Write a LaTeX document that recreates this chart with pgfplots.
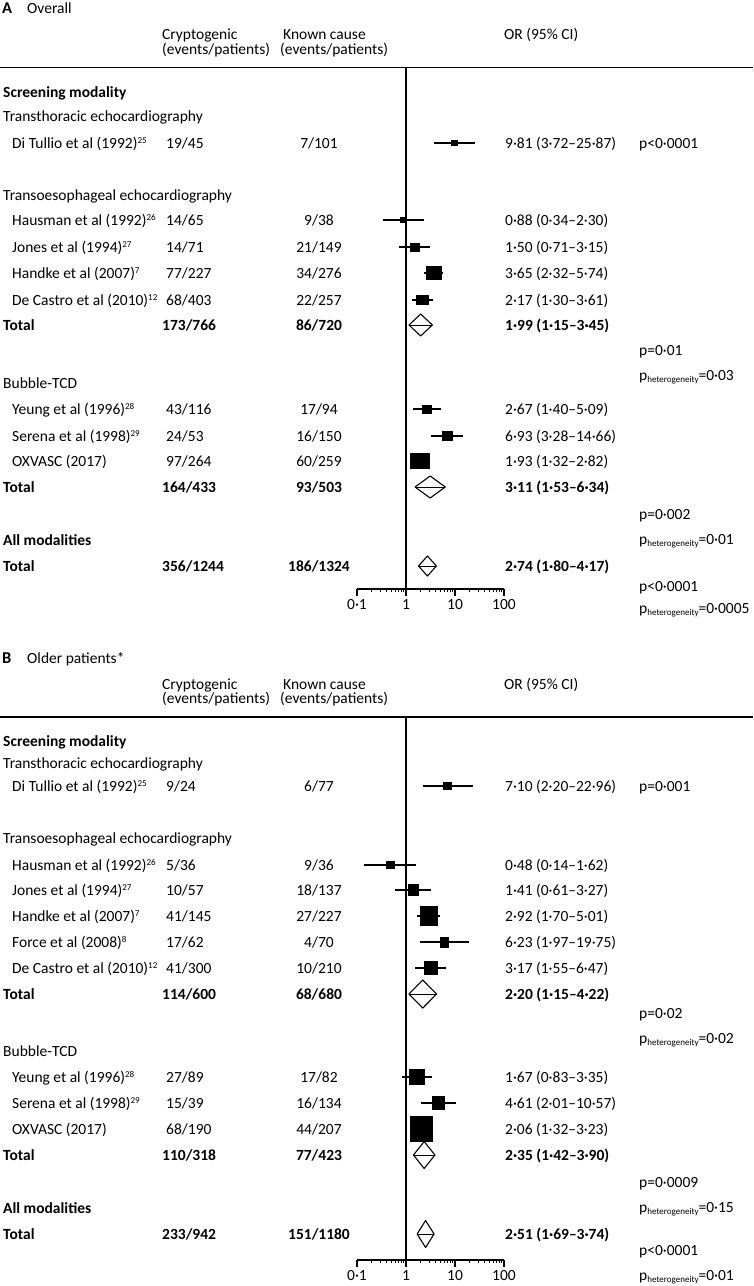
\documentclass[border=0pt]{standalone}
\usepackage{fontspec}
\setmainfont{Carlito}
\usepackage{pgfplots}
\pgfplotsset{compat=1.18}
\usepackage{pgfplotstable}

% one row per study: y (pixel row, negated), OR, half width / half height of the square
\pgfplotstableread{
y      or    w     h
-143   9.81  3.7   3.4
-220   0.88  3.4   3.4
-247   1.50  5.0   4.5
-273   3.65  8.0   6.7
-300   2.17  6.8   5.3
-409   2.67  5.3   4.5
-436   6.93  5.5   5.0
-461   1.93  9.7   7.8
}\studA
\pgfplotstableread{
y      or    w     h
-786   7.10  4.5   4.2
-865   0.48  4.3   4.2
-890   1.41  5.3   6.1
-916   2.92  8.7   10.3
-942   6.23  4.5   5.5
-968   3.17  7.0   7.0
-1077  1.67  7.7   7.7
-1103  4.61  6.2   7.0
-1129  2.06  11.7  13.3
}\studB

\pgfdeclareplotmark{box}{\pgfpathrectanglecorners{\pgfpoint{-\mw pt}{-\mh pt}}{\pgfpoint{\mw pt}{\mh pt}}\pgfusepathqfill}

\newcommand\squares[1]{%
  \addplot[scatter, only marks, mark=box,
    scatter/use mapped color={draw=none,fill=black},
    visualization depends on={\thisrow{w}\as\mw},
    visualization depends on={\thisrow{h}\as\mh}]
    table[x=or, y=y] {#1};}
\newcommand\diam[6]{%
  \addplot[draw=black, fill=white, line width=1.1pt, line join=round] coordinates {(#3,#1) (#2,#5) (#4,#1) (#2,#6) (#3,#1)};
  \addplot[black, line width=0.9pt] coordinates {(#3,#1) (#4,#1)};}

\newcommand\tl[3]{\node[anchor=base west,inner sep=0pt] at (#1pt,{-(#2+5)*1pt}) {#3};}
\newcommand\tc[3]{\node[anchor=base,inner sep=0pt] at (#1pt,{-(#2+5)*1pt}) {#3};}
\newcommand\su[1]{\raisebox{5pt}{\fontsize{9}{9}\selectfont #1}}
\newcommand\ph[1]{p\raisebox{-2.5pt}{\fontsize{9}{9}\selectfont heterogeneity}=#1}
\newcommand\study[5]{\tl{12}{#1}{#2}\tl{166}{#1}{#3}\tc{319}{#1}{#4}\tl{505}{#1}{#5}}
\newcommand\total[4]{\tl{3}{#1}{\bfseries Total}\tl{162}{#1}{\bfseries #2}\tc{319}{#1}{\bfseries #3}\tl{505}{#1}{\bfseries #4}}
% #1 = row of the rule under the header
\newcommand\head[3]{%
  \tl{2}{#1-59}{{\bfseries\fontsize{16.5}{18}\selectfont #2}}\tl{27}{#1-59}{#3}
  \tl{162}{#1-33}{Cryptogenic}\tl{162}{#1-18.5}{(events/patients)}
  \tl{283}{#1-33}{Known cause}\tl{280}{#1-18.5}{(events/patients)}
  \tl{504}{#1-33}{OR (95\% CI)}
  \draw[line width=1.3pt] (0,{-(#1)*1pt}) -- (753pt,{-(#1)*1pt});}

\begin{document}
\begin{tikzpicture}[font=\fontsize{15.5}{18}\selectfont]
\useasboundingbox (0,0) rectangle (753pt,-1286pt);

\begin{axis}[scale only axis, width=147pt, height=521pt,
    xmode=log, xmin=0.1, xmax=100, ymin=-589, ymax=-68,
    at={(357pt,-589pt)}, anchor=south west,
    axis x line*=bottom, axis y line=none, clip=false,
    xtick={0.1,1,10,100}, xticklabels={0·1,1,10,100}, minor xtick={},
    tick align=outside, major tick length=7pt,
    xticklabel style={font=\fontsize{15.5}{18}\selectfont},
    x axis line style={line width=1.2pt}, xtick style={line width=1.2pt,black},
    unbounded coords=jump]
  \addplot[black, line width=1.5pt] coordinates {(1,-68) (1,-589)};
  % 95% CI of each study
  \addplot[black, line width=1.2pt] coordinates {
    (3.72,-143) (25.87,-143) (nan,nan)
    (0.34,-220) (2.30,-220) (nan,nan)
    (0.71,-247) (3.15,-247) (nan,nan)
    (2.32,-273) (5.74,-273) (nan,nan)
    (1.30,-300) (3.61,-300) (nan,nan)
    (1.40,-409) (5.09,-409) (nan,nan)
    (3.28,-436) (14.66,-436) (nan,nan)
    (1.32,-461) (2.82,-461)};
  \squares{\studA}
  \diam{-325}{1.99}{1.15}{3.45}{-314}{-336}
  \diam{-487}{3.11}{1.53}{6.34}{-476}{-498}
  \diam{-566}{2.74}{1.80}{4.17}{-556}{-576}
\end{axis}

\begin{axis}[scale only axis, width=147pt, height=543pt,
    xmode=log, xmin=0.1, xmax=100, ymin=-1260, ymax=-717,
    at={(357pt,-1260pt)}, anchor=south west,
    axis x line*=bottom, axis y line=none, clip=false,
    xtick={0.1,1,10,100}, xticklabels={0·1,1,10,100}, minor xtick={},
    tick align=outside, major tick length=7pt,
    xticklabel style={font=\fontsize{15.5}{18}\selectfont},
    x axis line style={line width=1.2pt}, xtick style={line width=1.2pt,black},
    unbounded coords=jump]
  \addplot[black, line width=1.5pt] coordinates {(1,-717) (1,-1260)};
  \addplot[black, line width=1.2pt] coordinates {
    (2.20,-786) (22.96,-786) (nan,nan)
    (0.14,-865) (1.62,-865) (nan,nan)
    (0.61,-890) (3.27,-890) (nan,nan)
    (1.70,-916) (5.01,-916) (nan,nan)
    (1.97,-942) (19.75,-942) (nan,nan)
    (1.55,-968) (6.47,-968) (nan,nan)
    (0.83,-1077) (3.35,-1077) (nan,nan)
    (2.01,-1103) (10.57,-1103) (nan,nan)
    (1.32,-1129) (3.23,-1129)};
  \squares{\studB}
  \diam{-994}{2.20}{1.15}{4.22}{-980}{-1008}
  \diam{-1155}{2.35}{1.42}{3.90}{-1141.5}{-1168.5}
  \diam{-1234}{2.51}{1.69}{3.74}{-1220.5}{-1247.5}
\end{axis}

% panel A
\head{67.5}{A}{Overall}
\tl{3}{92}{\bfseries Screening modality}
\tl{3}{116}{Transthoracic echocardiography}
\study{143}{Di Tullio et al (1992)\su{25}}{19/45}{7/101}{9·81 (3·72–25·87)}
\tl{639}{143}{p<0·0001}
\tl{3}{195}{Transoesophageal echocardiography}
\study{220}{Hausman et al (1992)\su{26}}{14/65}{9/38}{0·88 (0·34–2·30)}
\study{247}{Jones et al (1994)\su{27}}{14/71}{21/149}{1·50 (0·71–3·15)}
\study{273}{Handke et al (2007)\su{7}}{77/227}{34/276}{3·65 (2·32–5·74)}
\study{300}{De Castro et al (2010)\su{12}}{68/403}{22/257}{2·17 (1·30–3·61)}
\total{325}{173/766}{86/720}{1·99 (1·15–3·45)}
\tl{639}{350}{p=0·01}
\tl{639}{375}{\ph{0·03}}
\tl{3}{383}{Bubble-TCD}
\study{409}{Yeung et al (1996)\su{28}}{43/116}{17/94}{2·67 (1·40–5·09)}
\study{436}{Serena et al (1998)\su{29}}{24/53}{16/150}{6·93 (3·28–14·66)}
\study{461}{OXVASC (2017)}{97/264}{60/259}{1·93 (1·32–2·82)}
\total{487}{164/433}{93/503}{3·11 (1·53–6·34)}
\tl{639}{514}{p=0·002}
\tl{639}{539}{\ph{0·01}}
\tl{3}{540}{\bfseries All modalities}
\total{566}{356/1244}{186/1324}{2·74 (1·80–4·17)}
\tl{639}{586}{p<0·0001}
\tl{639}{608}{\ph{0·0005}}

% panel B
\head{717}{B}{Older patients*}
\tl{3}{741}{\bfseries Screening modality}
\tl{3}{763}{Transthoracic echocardiography}
\study{786}{Di Tullio et al (1992)\su{25}}{9/24}{6/77}{7·10 (2·20–22·96)}
\tl{639}{786}{p=0·001}
\tl{3}{838}{Transoesophageal echocardiography}
\study{865}{Hausman et al (1992)\su{26}}{5/36}{9/36}{0·48 (0·14–1·62)}
\study{890}{Jones et al (1994)\su{27}}{10/57}{18/137}{1·41 (0·61–3·27)}
\study{916}{Handke et al (2007)\su{7}}{41/145}{27/227}{2·92 (1·70–5·01)}
\study{942}{Force et al (2008)\su{8}}{17/62}{4/70}{6·23 (1·97–19·75)}
\study{968}{De Castro et al (2010)\su{12}}{41/300}{10/210}{3·17 (1·55–6·47)}
\total{994}{114/600}{68/680}{2·20 (1·15–4·22)}
\tl{639}{1013}{p=0·02}
\tl{639}{1038}{\ph{0·02}}
\tl{3}{1051}{Bubble-TCD}
\study{1077}{Yeung et al (1996)\su{28}}{27/89}{17/82}{1·67 (0·83–3·35)}
\study{1103}{Serena et al (1998)\su{29}}{15/39}{16/134}{4·61 (2·01–10·57)}
\study{1129}{OXVASC (2017)}{68/190}{44/207}{2·06 (1·32–3·23)}
\total{1155}{110/318}{77/423}{2·35 (1·42–3·90)}
\tl{639}{1182}{p=0·0009}
\tl{639}{1207}{\ph{0·15}}
\tl{3}{1208}{\bfseries All modalities}
\total{1234}{233/942}{151/1180}{2·51 (1·69–3·74)}
\tl{639}{1250}{p<0·0001}
\tl{639}{1275}{\ph{0·01}}
\end{tikzpicture}
\end{document}
